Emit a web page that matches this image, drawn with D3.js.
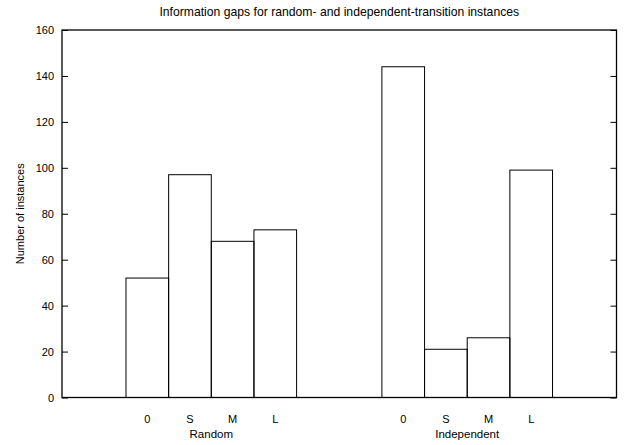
<!DOCTYPE html>
<html>
<head>
<meta charset="utf-8">
<script src="https://cdn.jsdelivr.net/npm/d3@7"></script>
<style>
  body { margin: 0; background: #fff; }
  text { font-family: "Liberation Sans", Arial, sans-serif; font-size: 11px; fill: #000; }
</style>
</head>
<body>
<div id="chart"></div>
<script>
const W = 624, H = 445;
const margin = {top: 30, right: 7.5, bottom: 47.5, left: 62};
const width = W - margin.left - margin.right;
const height = H - margin.top - margin.bottom;

const title = 'Information gaps for random- and independent-transition instances';
const groups = ['Random', 'Independent'];
const categories = ['0', 'S', 'M', 'L'];
const randomValues = [52, 97, 68, 73];
const independentValues = [144, 21, 26, 99];
const yTicks = [0, 20, 40, 60, 80, 100, 120, 140, 160];

const data = [];
groups.forEach((g, gi) => {
    const vals = gi === 0 ? randomValues : independentValues;
    categories.forEach((c, i) => data.push({group: g, cat: c, value: vals[i]}));
});

const svg = d3.select('#chart')
    .append('svg')
    .attr('width', W)
    .attr('height', H);

const g = svg.append('g')
    .attr('transform', `translate(${margin.left},${margin.top})`);

// outer band: groups, inner band: categories
const x0 = d3.scaleBand()
    .domain(groups)
    .range([0, width])
    .paddingInner(1 / 3)
    .paddingOuter(0.25);

const x1 = d3.scaleBand()
    .domain(categories)
    .range([0, x0.bandwidth()])
    .padding(0);

const y = d3.scaleLinear()
    .domain([0, 160])
    .range([height, 0]);

// bars
g.append('g')
    .selectAll('rect')
    .data(data)
    .join('rect')
    .attr('x', d => x0(d.group) + x1(d.cat))
    .attr('y', d => y(d.value))
    .attr('width', x1.bandwidth())
    .attr('height', d => y(0) - y(d.value))
    .attr('fill', 'none')
    .attr('stroke', '#000')
    .attr('stroke-width', 1);

// left axis, ticks pointing inwards
g.append('g')
    .call(d3.axisLeft(y).tickValues(yTicks).tickSize(-6).tickPadding(8))
    .call(ax => ax.select('.domain').remove())
    .call(ax => ax.selectAll('text').style('font-size', '11px').attr('fill', '#000'));

// mirrored right ticks
g.append('g')
    .attr('transform', `translate(${width},0)`)
    .call(d3.axisRight(y).tickValues(yTicks).tickSize(-6).tickFormat(''))
    .call(ax => ax.select('.domain').remove());

// category labels under each bar
g.append('g')
    .selectAll('text')
    .data(data)
    .join('text')
    .attr('x', d => x0(d.group) + x1(d.cat) + x1.bandwidth() / 2)
    .attr('y', height + 25.5)
    .attr('text-anchor', 'middle')
    .text(d => d.cat);

// group labels
g.append('g')
    .selectAll('text')
    .data(groups)
    .join('text')
    .attr('x', d => x0(d) + x0.bandwidth() / 2)
    .attr('y', height + 40.5)
    .attr('text-anchor', 'middle')
    .style('font-size', '11.5px')
    .text(d => d);

// frame
g.append('rect')
    .attr('width', width)
    .attr('height', height)
    .attr('fill', 'none')
    .attr('stroke', '#000')
    .attr('stroke-width', 1.3);

// title
svg.append('text')
    .attr('x', margin.left + width / 2)
    .attr('y', 16)
    .attr('text-anchor', 'middle')
    .style('font-size', '12.2px')
    .text(title);

// y label
svg.append('text')
    .attr('transform', `translate(24,${margin.top + height / 2}) rotate(-90)`)
    .attr('text-anchor', 'middle')
    .text('Number of instances');
</script>
</body>
</html>
